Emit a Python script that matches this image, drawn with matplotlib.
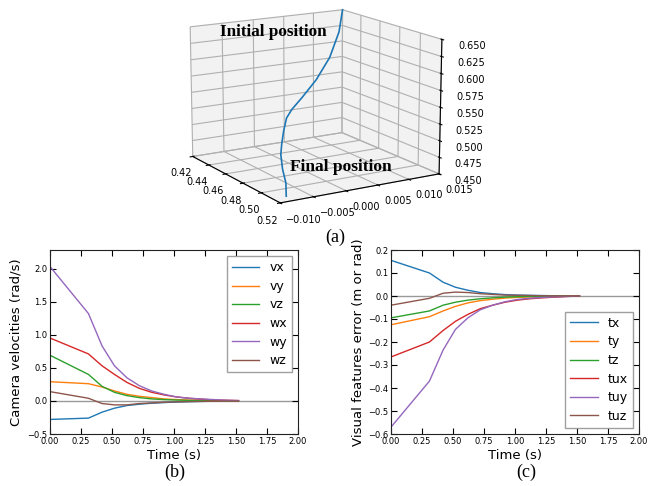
import matplotlib
matplotlib.use("Agg")
import matplotlib.pyplot as plt
import numpy as np

# time stamps of the servo loop
t = [0.0, 0.31, 0.42, 0.52, 0.62, 0.72, 0.82, 0.92, 1.02, 1.12, 1.22, 1.32, 1.42, 1.52]

# camera velocities (b)
vx = [-0.28, -0.26, -0.17, -0.11, -0.07, -0.05, -0.035, -0.025, -0.017, -0.012, -0.008, -0.005, -0.003, -0.001]
vy = [0.29, 0.26, 0.21, 0.15, 0.10, 0.07, 0.05, 0.03, 0.02, 0.013, 0.008, 0.005, 0.003, 0.001]
vz = [0.69, 0.40, 0.22, 0.13, 0.08, 0.05, 0.03, 0.02, 0.013, 0.008, 0.005, 0.003, 0.002, 0.001]
wx = [0.95, 0.71, 0.53, 0.40, 0.28, 0.19, 0.13, 0.09, 0.06, 0.04, 0.025, 0.015, 0.01, 0.005]
wy = [2.03, 1.32, 0.83, 0.53, 0.35, 0.23, 0.15, 0.10, 0.06, 0.04, 0.03, 0.02, 0.01, 0.005]
wz = [0.14, 0.04, -0.04, -0.06, -0.06, -0.04, -0.03, -0.02, -0.015, -0.01, -0.007, -0.005, -0.003, -0.002]

# visual feature errors (c)
tx = [0.155, 0.10, 0.06, 0.038, 0.025, 0.015, 0.01, 0.006, 0.004, 0.003, 0.002, 0.001, 0.0005, 0.0]
ty = [-0.125, -0.09, -0.065, -0.045, -0.03, -0.02, -0.014, -0.009, -0.006, -0.004, -0.003, -0.002, -0.001, 0.0]
tz = [-0.095, -0.065, -0.04, -0.027, -0.018, -0.012, -0.008, -0.005, -0.003, -0.002, -0.0015, -0.001, -0.0005, 0.0]
tux = [-0.265, -0.20, -0.15, -0.11, -0.08, -0.055, -0.04, -0.027, -0.018, -0.012, -0.008, -0.005, -0.002, 0.0]
tuy = [-0.57, -0.37, -0.235, -0.145, -0.095, -0.06, -0.04, -0.025, -0.015, -0.01, -0.006, -0.004, -0.002, 0.0]
tuz = [-0.04, -0.01, 0.012, 0.017, 0.015, 0.01, 0.007, 0.004, 0.003, 0.002, 0.001, 0.0005, 0.0002, 0.0]

# camera trajectory (a)
px = [0.420, 0.429, 0.446, 0.469, 0.490, 0.504, 0.513, 0.519, 0.517, 0.516, 0.517, 0.519, 0.520]
py = [0.015, 0.0130, 0.0088, 0.0031, -0.0023, -0.0059, -0.0080, -0.0093, -0.0093, -0.0093, -0.0092, -0.0090, -0.0091]
pz = [0.650, 0.621, 0.594, 0.579, 0.571, 0.567, 0.563, 0.550, 0.531, 0.515, 0.495, 0.476, 0.458]

vel_labels = ["vx", "vy", "vz", "wx", "wy", "wz"]
err_labels = ["tx", "ty", "tz", "tux", "tuy", "tuz"]
xt = [0.42, 0.44, 0.46, 0.48, 0.50, 0.52]
yt = [-0.010, -0.005, 0.0, 0.005, 0.010, 0.015]
zt = [0.450, 0.475, 0.500, 0.525, 0.550, 0.575, 0.600, 0.625, 0.650]
colors = plt.rcParams['axes.prop_cycle'].by_key()['color']

fig = plt.figure(figsize=(6.52, 4.86), dpi=100)

# (a) 3d trajectory - made first so the 2d panels sit on top of it
ax3 = fig.add_axes([0.16, 0.497, 0.63, 0.58], projection='3d')
ax3.set_facecolor('none')
ax3.plot(px, py, pz, color=colors[0], lw=1.2)
ax3.set_xlim(0.42, 0.52)
ax3.set_ylim(-0.010, 0.015)
ax3.set_zlim(0.45, 0.65)
ax3.set_xticks(xt)
ax3.set_yticks(yt)
ax3.set_zticks(zt)
ax3.set_yticklabels([("%.3f" % abs(v)) if v >= 0 else "\u2212%.3f" % abs(v) for v in yt], ha='left')
ax3.set_zticklabels(["%.3f" % z for z in zt])
ax3.tick_params(labelsize=7, pad=0)
ax3.tick_params(axis='y', pad=-1.5)
ax3.tick_params(axis='z', pad=4)
ax3.view_init(elev=14, azim=-31)
for a in (ax3.xaxis, ax3.yaxis, ax3.zaxis):
    a.set_pane_color((0.95, 0.95, 0.95, 1.0))


def style_2d(ax):
    ax.tick_params(direction='in', top=True, right=True, labelsize=6, length=4, pad=2)
    for s in ax.spines.values():
        s.set_color('#222222')
    ax.set_xlim(0, 2.0)
    ax.set_xticks([0, 0.25, 0.5, 0.75, 1.0, 1.25, 1.5, 1.75, 2.0])
    ax.axhline(0, color='#999999', lw=1, zorder=0)
    ax.set_xlabel("Time (s)", fontsize=9.5, labelpad=2)


def add_legend(ax, loc):
    leg = ax.legend(loc=loc, fontsize=9, fancybox=False, labelspacing=0.45,
                    handlelength=2.2, borderpad=0.4, handletextpad=0.8)
    leg.get_frame().set_edgecolor('#888888')


# (b) camera velocities
axb = fig.add_axes([50/652, 52/486, 248/652, 184/486])
for i, v in enumerate([vx, vy, vz, wx, wy, wz]):
    axb.plot(t, v, color=colors[i], lw=1, label=vel_labels[i])
style_2d(axb)
axb.set_ylim(-0.5, 2.28)
axb.set_yticks([-0.5, 0.0, 0.5, 1.0, 1.5, 2.0])
axb.set_ylabel("Camera velocities (rad/s)", fontsize=9.5, labelpad=3)
add_legend(axb, 'upper right')

# (c) visual feature errors
axc = fig.add_axes([391/652, 52/486, 248/652, 184/486])
for i, e in enumerate([tx, ty, tz, tux, tuy, tuz]):
    axc.plot(t, e, color=colors[i], lw=1, label=err_labels[i])
style_2d(axc)
axc.set_ylim(-0.6, 0.2)
axc.set_yticks([-0.6, -0.5, -0.4, -0.3, -0.2, -0.1, 0.0, 0.1, 0.2])
axc.set_ylabel("Visual features error (m or rad)", fontsize=9.5, labelpad=2)
add_legend(axc, 'lower right')

serif = ['Liberation Serif', 'DejaVu Serif']
fig.text(273/652, 1 - 32/486, "Initial position", family=serif, weight='bold', fontsize=12.3,
         ha='center', va='center')
fig.text(341/652, 1 - 167/486, "Final position", family=serif, weight='bold', fontsize=12.5,
         ha='center', va='center')
fig.text(335/652, 1 - 237/486, "(a)", family=serif, fontsize=13, ha='center', va='center')
fig.text(175/652, 1 - 472/486, "(b)", family=serif, fontsize=13, ha='center', va='center')
fig.text(526/652, 1 - 472/486, "(c)", family=serif, fontsize=13, ha='center', va='center')

fig.savefig("out.png", dpi=100)
